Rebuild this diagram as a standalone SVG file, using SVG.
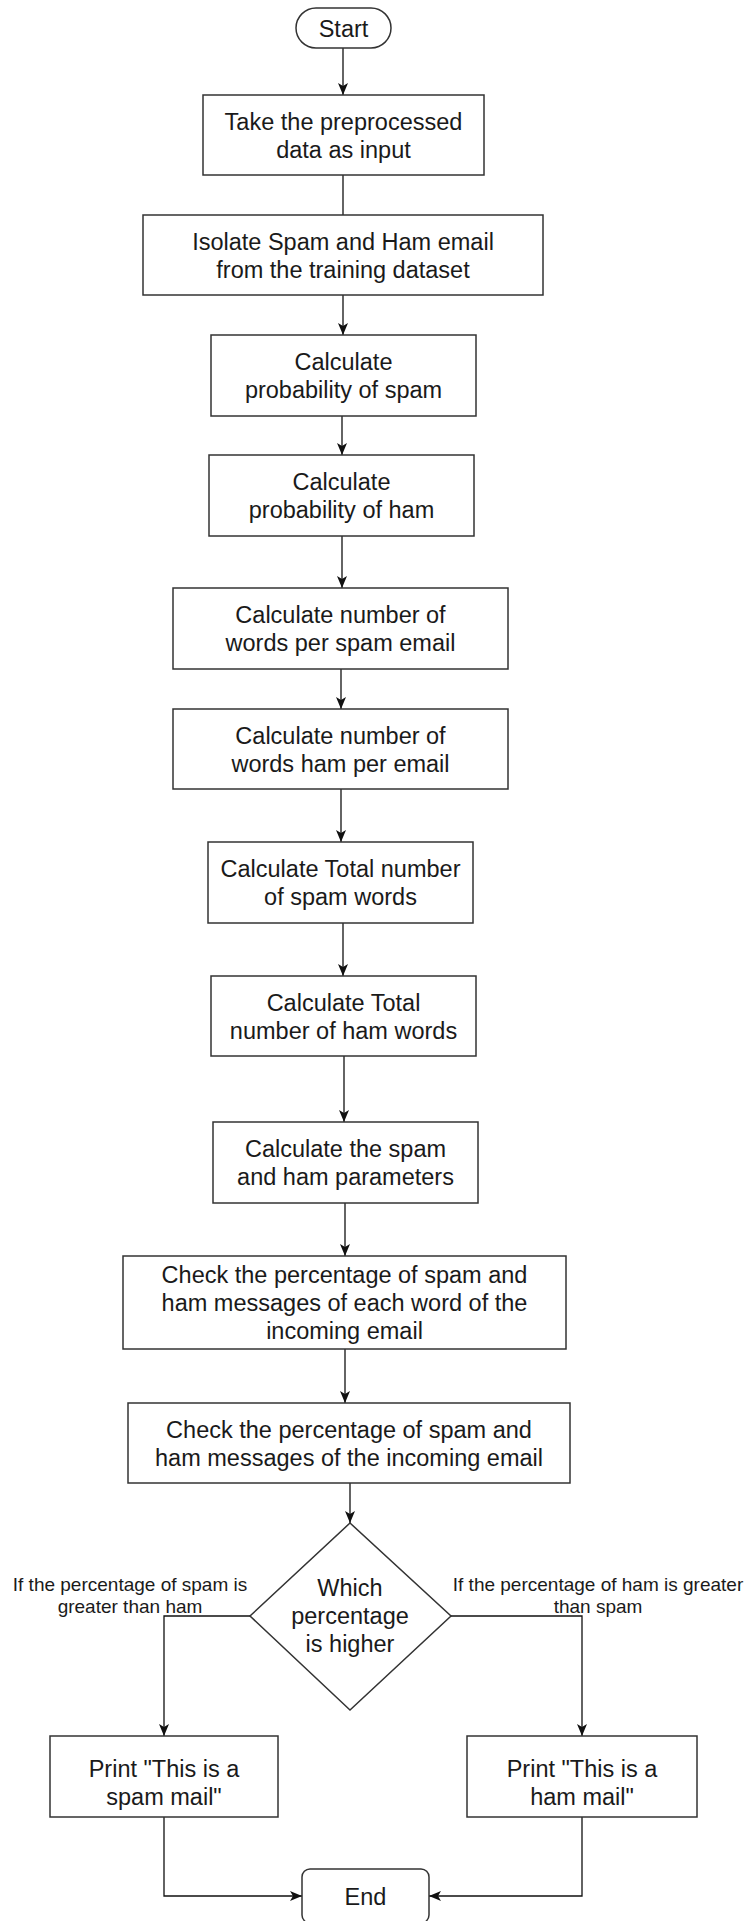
<svg xmlns="http://www.w3.org/2000/svg" width="746" height="1921" viewBox="0 0 746 1921">
  <style>
    .shape { fill: #ffffff; stroke: #333333; stroke-width: 1.5; }
    .edge { fill: none; stroke: #111111; stroke-width: 1.3; }
    .lbl { font-family: "Liberation Sans", Arial, sans-serif; font-size: 23.5px; fill: #1a1a1a; text-anchor: middle; }
    .edge-lbl { font-family: "Liberation Sans", Arial, sans-serif; font-size: 19px; fill: #1a1a1a; text-anchor: middle; }
  </style>
  <defs>
    <marker id="arrow" markerUnits="userSpaceOnUse" viewBox="0 0 12 10" markerWidth="12" markerHeight="10" refX="12" refY="5" orient="auto">
      <path d="M0,0 L12,5 L0,10 L3,5 Z" fill="#111111"/>
    </marker>
  </defs>

  <rect width="746" height="1921" fill="#ffffff"/>

  <!-- connectors -->
  <g id="connectors">
    <path class="edge" d="M343,48 V95" marker-end="url(#arrow)"/>
    <path class="edge" d="M343,175 V215"/>
    <path class="edge" d="M343,295 V335" marker-end="url(#arrow)"/>
    <path class="edge" d="M342,416 V455" marker-end="url(#arrow)"/>
    <path class="edge" d="M342,536 V588" marker-end="url(#arrow)"/>
    <path class="edge" d="M341,669 V709" marker-end="url(#arrow)"/>
    <path class="edge" d="M341,789 V842" marker-end="url(#arrow)"/>
    <path class="edge" d="M343,923 V976" marker-end="url(#arrow)"/>
    <path class="edge" d="M344,1056 V1122" marker-end="url(#arrow)"/>
    <path class="edge" d="M345,1203 V1256" marker-end="url(#arrow)"/>
    <path class="edge" d="M345,1349 V1403" marker-end="url(#arrow)"/>
    <path class="edge" d="M350,1483 V1523" marker-end="url(#arrow)"/>
    <path class="edge" d="M250,1616 H164 V1736" marker-end="url(#arrow)"/>
    <path class="edge" d="M451,1616 H582 V1736" marker-end="url(#arrow)"/>
    <path class="edge" d="M164,1817 V1896 H302" marker-end="url(#arrow)"/>
    <path class="edge" d="M582,1817 V1896 H429" marker-end="url(#arrow)"/>
    <text class="edge-lbl" x="130" y="1591">If the percentage of spam is</text>
    <text class="edge-lbl" x="130" y="1613">greater than ham</text>
    <text class="edge-lbl" x="598" y="1591">If the percentage of ham is greater</text>
    <text class="edge-lbl" x="598" y="1613">than spam</text>
  </g>

  <g id="start">
    <rect class="shape" x="296" y="8" width="95" height="40" rx="20" ry="20"/>
    <text class="lbl" x="343.5" y="36.5">Start</text>
  </g>

  <g id="take-input">
    <rect class="shape" x="203" y="95" width="281" height="80"/>
    <text class="lbl" x="343.5" y="129.5">Take the preprocessed</text>
    <text class="lbl" x="343.5" y="157.5">data as input</text>
  </g>

  <g id="isolate">
    <rect class="shape" x="143" y="215" width="400" height="80"/>
    <text class="lbl" x="343" y="249.5">Isolate Spam and Ham email</text>
    <text class="lbl" x="343" y="277.5">from the training dataset</text>
  </g>

  <g id="prob-spam">
    <rect class="shape" x="211" y="335" width="265" height="81"/>
    <text class="lbl" x="343.5" y="370">Calculate</text>
    <text class="lbl" x="343.5" y="398">probability of spam</text>
  </g>

  <g id="prob-ham">
    <rect class="shape" x="209" y="455" width="265" height="81"/>
    <text class="lbl" x="341.5" y="490">Calculate</text>
    <text class="lbl" x="341.5" y="518">probability of ham</text>
  </g>

  <g id="words-spam">
    <rect class="shape" x="173" y="588" width="335" height="81"/>
    <text class="lbl" x="340.5" y="623">Calculate number of</text>
    <text class="lbl" x="340.5" y="651">words per spam email</text>
  </g>

  <g id="words-ham">
    <rect class="shape" x="173" y="709" width="335" height="80"/>
    <text class="lbl" x="340.5" y="743.5">Calculate number of</text>
    <text class="lbl" x="340.5" y="771.5">words ham per email</text>
  </g>

  <g id="total-spam">
    <rect class="shape" x="208" y="842" width="265" height="81"/>
    <text class="lbl" x="340.5" y="877">Calculate Total number</text>
    <text class="lbl" x="340.5" y="905">of spam words</text>
  </g>

  <g id="total-ham">
    <rect class="shape" x="211" y="976" width="265" height="80"/>
    <text class="lbl" x="343.5" y="1010.5">Calculate Total</text>
    <text class="lbl" x="343.5" y="1038.5">number of ham words</text>
  </g>

  <g id="parameters">
    <rect class="shape" x="213" y="1122" width="265" height="81"/>
    <text class="lbl" x="345.5" y="1157">Calculate the spam</text>
    <text class="lbl" x="345.5" y="1185">and ham parameters</text>
  </g>

  <g id="check-words">
    <rect class="shape" x="123" y="1256" width="443" height="93"/>
    <text class="lbl" x="344.5" y="1283">Check the percentage of spam and</text>
    <text class="lbl" x="344.5" y="1311">ham messages of each word of the</text>
    <text class="lbl" x="344.5" y="1339">incoming email</text>
  </g>

  <g id="check-email">
    <rect class="shape" x="128" y="1403" width="442" height="80"/>
    <text class="lbl" x="349" y="1437.5">Check the percentage of spam and</text>
    <text class="lbl" x="349" y="1465.5">ham messages of the incoming email</text>
  </g>

  <g id="decision">
    <polygon class="shape" points="350,1523 451,1616 350,1710 250,1616"/>
    <text class="lbl" x="350" y="1596">Which</text>
    <text class="lbl" x="350" y="1624">percentage</text>
    <text class="lbl" x="350" y="1652">is higher</text>
  </g>

  <g id="print-spam">
    <rect class="shape" x="50" y="1736" width="228" height="81"/>
    <text class="lbl" x="164" y="1777">Print "This is a</text>
    <text class="lbl" x="164" y="1805">spam mail"</text>
  </g>

  <g id="print-ham">
    <rect class="shape" x="467" y="1736" width="230" height="81"/>
    <text class="lbl" x="582" y="1777">Print "This is a</text>
    <text class="lbl" x="582" y="1805">ham mail"</text>
  </g>

  <g id="end">
    <rect class="shape" x="302" y="1869" width="127" height="54" rx="8" ry="8"/>
    <text class="lbl" x="365.5" y="1905">End</text>
  </g>
</svg>
